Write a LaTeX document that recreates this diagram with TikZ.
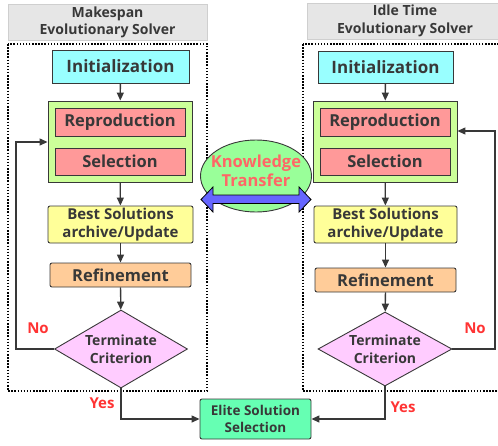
\documentclass[tikz,border=0pt]{standalone}
\usepackage{fontspec}
\setmainfont{Open Sans}
\usetikzlibrary{shapes.geometric,arrows.meta}
\definecolor{txt}{HTML}{383838}
\definecolor{ttlfill}{HTML}{E6E6E6}
\definecolor{ttldraw}{HTML}{CFCFCF}
\definecolor{cyanf}{HTML}{99FFFF}
\definecolor{grpf}{HTML}{CCFF99}
\definecolor{redf}{HTML}{FF9999}
\definecolor{yelf}{HTML}{FFFF99}
\definecolor{orgf}{HTML}{FFCC99}
\definecolor{pinkf}{HTML}{FFCCFF}
\definecolor{mintf}{HTML}{66FFB3}
\definecolor{ellf}{HTML}{99FF99}
\definecolor{bluef}{HTML}{6666FF}
\definecolor{lblred}{HTML}{FF3333}
\definecolor{ktred}{HTML}{FF6666}
\newcommand{\fs}[1]{\fontsize{#1}{17.5}\selectfont\bfseries}
\begin{document}
\begin{tikzpicture}[x=1pt,y=-1pt,
  base/.style={draw=txt,line width=0.9pt,inner sep=0pt,text=txt,align=center,
    font=\fs{15}},
  ttl/.style={base,draw=ttldraw,fill=ttlfill,line width=0.8pt,font=\fs{14}},
  sq/.style={base},
  rnd/.style={base,rounded corners=2pt},
  dia/.style={base,diamond,aspect=1.7,fill=pinkf,font=\fs{14}},
  lbl/.style={text=lblred,font=\fontsize{15}{17}\selectfont\bfseries,inner sep=0pt},
  arr/.style={draw=txt,line width=1.3pt,-{Triangle[length=8pt,width=7pt]}},
  dotbox/.style={draw=black,line width=1.3pt,dash pattern=on 1.5pt off 1.6pt}]
\useasboundingbox (0,0) rectangle (498,445);

% ---------------- left solver ----------------
\node[ttl,minimum width=199pt,minimum height=36pt] (tL) at (107.5,22.5) {Makespan\\Evolutionary Solver};
\draw[dotbox] (8,44) rectangle (207,391);
\node[sq,fill=cyanf,minimum width=137pt,minimum height=33pt,font=\fs{17}] (iL) at (120.5,66.5) {Initialization};
\node[sq,fill=grpf,minimum width=144pt,minimum height=81pt] (gL) at (120,141.5) {};
\node[sq,fill=redf,minimum width=130pt,minimum height=28pt,font=\fs{16.5}] (rL) at (120,122) {Reproduction};
\node[sq,fill=redf,minimum width=130pt,minimum height=27pt,font=\fs{16.5}] (sL) at (120,161.5) {Selection};
\node[rnd,fill=yelf,minimum width=145pt,minimum height=37pt] (bL) at (120.5,224.5) {Best Solutions\\archive/Update};
\node[rnd,fill=orgf,minimum width=141pt,minimum height=24pt,font=\fs{16.5}] (fL) at (120.5,275) {Refinement};
\node[dia,minimum width=133pt,minimum height=78pt] (dL) at (121,349) {Terminate\\Criterion};
\coordinate (lpL1) at (16,349);
\coordinate (lpL2) at (16,142);
\coordinate (ysL) at (121,419);

% ---------------- right solver ----------------
\node[ttl,minimum width=196pt,minimum height=36pt] (tR) at (405,21) {Idle Time\\Evolutionary Solver};
\draw[dotbox] (303,44) rectangle (505,391);
\node[sq,fill=cyanf,minimum width=135pt,minimum height=32pt,font=\fs{17}] (iR) at (385.5,67) {Initialization};
\node[sq,fill=grpf,minimum width=144pt,minimum height=81pt] (gR) at (385,141.5) {};
\node[sq,fill=redf,minimum width=130pt,minimum height=28pt,font=\fs{16.5}] (rR) at (385,122) {Reproduction};
\node[sq,fill=redf,minimum width=130pt,minimum height=27pt,font=\fs{16.5}] (sR) at (385,161.5) {Selection};
\node[rnd,fill=yelf,minimum width=143pt,minimum height=37pt] (bR) at (385.5,224.5) {Best Solutions\\archive/Update};
\node[rnd,fill=orgf,minimum width=141pt,minimum height=24pt,font=\fs{16.5}] (fR) at (385.5,280) {Refinement};
\node[dia,minimum width=134pt,minimum height=74pt] (dR) at (385,349) {Terminate\\Criterion};
\coordinate (lpR1) at (495,349);
\coordinate (lpR2) at (495,131);
\coordinate (ysR) at (385,419);

% ---------------- centre ----------------
\node[rnd,fill=mintf,minimum width=111pt,minimum height=40pt,font=\fontsize{13.5}{16.5}\selectfont\bfseries] (el) at (255.5,419) {Elite Solution\\Selection};
\node[base,ellipse,fill=ellf,minimum width=111pt,minimum height=72pt] (kt) at (256,176) {};
\node[text=ktred,align=center,inner sep=0pt,font=\fontsize{16.5}{18.5}\selectfont\bfseries] (ktt) at (256,171) {Knowledge\\Transfer};
\draw[draw=black,line width=0.8pt,fill=bluef]
  (201,199.5) -- (213,187) -- (213,195) -- (299,195) -- (299,187) -- (311,199.5)
  -- (299,212) -- (299,203.5) -- (213,203.5) -- (213,212) -- cycle;

% ---------------- connectors ----------------
\draw[arr] (iL) -- (gL);
\draw[arr] (gL) -- (bL);
\draw[arr] (bL) -- (fL);
\draw[arr] (fL) -- (dL);
\draw[arr] (dL.west) -- (lpL1) -- (lpL2) -- (gL.west |- lpL2);
\draw[arr] (dL.south) -- (ysL) -- (el.west);

\draw[arr] (iR) -- (gR);
\draw[arr] (gR) -- (bR);
\draw[arr] (bR) -- (fR);
\draw[arr] (fR) -- (dR);
\draw[arr] (dR.east) -- (lpR1) -- (lpR2) -- (gR.east |- lpR2);
\draw[arr] (dR.south) -- (ysR) -- (el.east);

% ---------------- labels ----------------
\node[lbl] (noL) at (38,328) {No};
\node[lbl] (noR) at (475,328) {No};
\node[lbl] (yesL) at (102,403) {Yes};
\node[lbl] (yesR) at (403,407) {Yes};
\end{tikzpicture}
\end{document}
